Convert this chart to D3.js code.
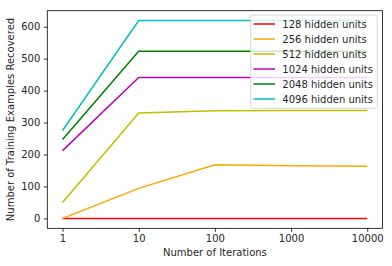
<!DOCTYPE html>
<html><head><meta charset="utf-8">
<script src="https://cdn.jsdelivr.net/npm/d3@7"></script>
<style>body{margin:0;background:#fff}svg{display:block}text{font-family:"DejaVu Sans",sans-serif;fill:#262626}</style>
</head><body><svg id="c" width="392" height="266"></svg>
<script>
const iterations = [1, 10, 100, 1000, 10000];
const seriesNames = ["128 hidden units","256 hidden units","512 hidden units","1024 hidden units","2048 hidden units","4096 hidden units"];
const v128  = [0, 0, 0, 0, 0];
const v256  = [0, 94, 168, 165, 163];
const v512  = [50, 330, 337, 338, 338];
const v1024 = [212, 441, 441, 441, 441];
const v2048 = [247, 523, 523, 523, 523];
const v4096 = [275, 619, 619, 619, 619];
const colors = ["#ff0000","#ffa500","#bfbf00","#bf00bf","#008000","#00bfbf"];
const yTicks = [0,100,200,300,400,500,600];
const series = [v128,v256,v512,v1024,v2048,v4096];

const svg = d3.select("#c");
const L=47.3,R=382.5,T=10.7,B=228.3;
const allV = series.flat();
const ymin=d3.min(allV), ymax=d3.max(allV), ym=(ymax-ymin)*0.05;
const x = d3.scaleLog().domain([1/Math.pow(10,0.2), 10000*Math.pow(10,0.2)]).range([L,R]);
const y = d3.scaleLinear().domain([ymin-ym, ymax+ym]).range([B,T]);

const gx = svg.append("g").attr("transform",`translate(0,${B})`)
  .call(d3.axisBottom(x).tickValues(iterations).tickFormat(d=>String(d)).tickSize(3.5).tickPadding(3.5));
const gy = svg.append("g").attr("transform",`translate(${L},0)`)
  .call(d3.axisLeft(y).tickValues(yTicks).tickSize(3.5).tickPadding(3.5));
[gx,gy].forEach(g=>{g.select(".domain").remove();g.selectAll("line").attr("stroke","#000").attr("stroke-width",0.8);
  g.selectAll("text").attr("font-size",10).attr("font-family","DejaVu Sans").attr("fill","#262626");});

const line = d3.line().x((d,i)=>x(iterations[i])).y(d=>y(d));
const plot = svg.append("g");
series.forEach((s,i)=>{
  plot.append("path").datum(s).attr("d",line).attr("fill","none").attr("stroke",colors[i]).attr("stroke-width",1.5);
});
svg.append("rect").attr("x",L).attr("y",T).attr("width",R-L).attr("height",B-T).attr("fill","none").attr("stroke","#000").attr("stroke-width",0.8);

svg.append("text").attr("x",(L+R)/2).attr("y",256).attr("text-anchor","middle").attr("font-size",10).text("Number of Iterations");
svg.append("text").attr("transform",`translate(14,${(T+B)/2}) rotate(-90)`).attr("text-anchor","middle").attr("font-size",10).text("Number of Training Examples Recovered");

const lg = svg.append("g");
lg.append("rect").attr("x",250.7).attr("y",15).attr("width",126.6).attr("height",93.3).attr("rx",2.5)
  .attr("fill","#fff").attr("fill-opacity",0.8).attr("stroke","#cccccc").attr("stroke-width",0.8);
seriesNames.forEach((n,i)=>{
  const cy = 24 + i*15;
  lg.append("line").attr("x1",253.5).attr("x2",275).attr("y1",cy).attr("y2",cy).attr("stroke",colors[i]).attr("stroke-width",1.5);
  lg.append("text").attr("x",282.3).attr("y",cy+3.6).attr("font-size",10).text(n);
});
</script></body></html>
